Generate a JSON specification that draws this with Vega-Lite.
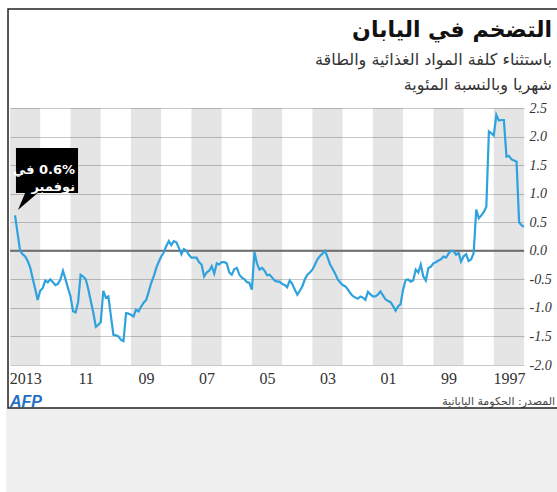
{
  "$schema": "https://vega.github.io/schema/vega-lite/v6.json",
  "width": 514,
  "height": 257,
  "autosize": {"type": "none"},
  "padding": {"left": 10, "top": 108, "right": 33, "bottom": 127},
  "background": "white",
  "config": {"view": {"stroke": null}},
  "title": {
    "text": "التضخم في اليابان",
    "subtitle": ["باستثناء كلفة المواد الغذائية والطاقة", "شهريا وبالنسبة المئوية"],
    "anchor": "end",
    "frame": "group",
    "orient": "top",
    "dx": 28,
    "offset": -86,
    "font": "DejaVu Sans",
    "fontSize": 22,
    "fontWeight": "bold",
    "color": "#111111",
    "subtitleFont": "DejaVu Sans",
    "subtitleFontSize": 16,
    "subtitleColor": "#333333",
    "subtitlePadding": 10,
    "subtitleLineHeight": 25
  },
  "datasets": {
    "cpi": [
      {"d":"1997-01","v":0.42},{"d":"1997-02","v":0.45},{"d":"1997-03","v":0.5},{"d":"1997-04","v":1.56},{"d":"1997-05","v":1.58},{"d":"1997-06","v":1.6},{"d":"1997-07","v":1.66},{"d":"1997-08","v":1.65},{"d":"1997-09","v":2.29},{"d":"1997-10","v":2.29},{"d":"1997-11","v":2.28},{"d":"1997-12","v":2.38},
      {"d":"1998-01","v":2.02},{"d":"1998-02","v":2.06},{"d":"1998-03","v":2.09},{"d":"1998-04","v":0.77},{"d":"1998-05","v":0.68},{"d":"1998-06","v":0.62},{"d":"1998-07","v":0.57},{"d":"1998-08","v":0.72},{"d":"1998-09","v":-0.04},{"d":"1998-10","v":-0.15},{"d":"1998-11","v":-0.18},{"d":"1998-12","v":-0.06},
      {"d":"1999-01","v":-0.1},{"d":"1999-02","v":-0.19},{"d":"1999-03","v":-0.04},{"d":"1999-04","v":-0.07},{"d":"1999-05","v":-0.01},{"d":"1999-06","v":0.0},{"d":"1999-07","v":-0.05},{"d":"1999-08","v":-0.12},{"d":"1999-09","v":-0.1},{"d":"1999-10","v":-0.15},{"d":"1999-11","v":-0.17},{"d":"1999-12","v":-0.2},
      {"d":"2000-01","v":-0.22},{"d":"2000-02","v":-0.28},{"d":"2000-03","v":-0.3},{"d":"2000-04","v":-0.52},{"d":"2000-05","v":-0.45},{"d":"2000-06","v":-0.24},{"d":"2000-07","v":-0.38},{"d":"2000-08","v":-0.33},{"d":"2000-09","v":-0.52},{"d":"2000-10","v":-0.54},{"d":"2000-11","v":-0.5},{"d":"2000-12","v":-0.51},
      {"d":"2001-01","v":-0.68},{"d":"2001-02","v":-0.94},{"d":"2001-03","v":-0.97},{"d":"2001-04","v":-1.05},{"d":"2001-05","v":-0.97},{"d":"2001-06","v":-0.9},{"d":"2001-07","v":-0.88},{"d":"2001-08","v":-0.85},{"d":"2001-09","v":-0.78},{"d":"2001-10","v":-0.71},{"d":"2001-11","v":-0.77},{"d":"2001-12","v":-0.8},
      {"d":"2002-01","v":-0.8},{"d":"2002-02","v":-0.76},{"d":"2002-03","v":-0.72},{"d":"2002-04","v":-0.86},{"d":"2002-05","v":-0.82},{"d":"2002-06","v":-0.8},{"d":"2002-07","v":-0.84},{"d":"2002-08","v":-0.82},{"d":"2002-09","v":-0.79},{"d":"2002-10","v":-0.74},{"d":"2002-11","v":-0.67},{"d":"2002-12","v":-0.62},
      {"d":"2003-01","v":-0.6},{"d":"2003-02","v":-0.55},{"d":"2003-03","v":-0.5},{"d":"2003-04","v":-0.4},{"d":"2003-05","v":-0.32},{"d":"2003-06","v":-0.24},{"d":"2003-07","v":-0.12},{"d":"2003-08","v":0.0},{"d":"2003-09","v":-0.05},{"d":"2003-10","v":-0.09},{"d":"2003-11","v":-0.15},{"d":"2003-12","v":-0.24},
      {"d":"2004-01","v":-0.33},{"d":"2004-02","v":-0.38},{"d":"2004-03","v":-0.42},{"d":"2004-04","v":-0.5},{"d":"2004-05","v":-0.62},{"d":"2004-06","v":-0.7},{"d":"2004-07","v":-0.77},{"d":"2004-08","v":-0.68},{"d":"2004-09","v":-0.58},{"d":"2004-10","v":-0.52},{"d":"2004-11","v":-0.64},{"d":"2004-12","v":-0.6},
      {"d":"2005-01","v":-0.58},{"d":"2005-02","v":-0.54},{"d":"2005-03","v":-0.54},{"d":"2005-04","v":-0.52},{"d":"2005-05","v":-0.47},{"d":"2005-06","v":-0.42},{"d":"2005-07","v":-0.43},{"d":"2005-08","v":-0.35},{"d":"2005-09","v":-0.3},{"d":"2005-10","v":-0.33},{"d":"2005-11","v":-0.22},{"d":"2005-12","v":-0.02},
      {"d":"2006-01","v":-0.68},{"d":"2006-02","v":-0.56},{"d":"2006-03","v":-0.55},{"d":"2006-04","v":-0.5},{"d":"2006-05","v":-0.47},{"d":"2006-06","v":-0.42},{"d":"2006-07","v":-0.3},{"d":"2006-08","v":-0.32},{"d":"2006-09","v":-0.42},{"d":"2006-10","v":-0.38},{"d":"2006-11","v":-0.22},{"d":"2006-12","v":-0.2},
      {"d":"2007-01","v":-0.2},{"d":"2007-02","v":-0.24},{"d":"2007-03","v":-0.22},{"d":"2007-04","v":-0.4},{"d":"2007-05","v":-0.27},{"d":"2007-06","v":-0.35},{"d":"2007-07","v":-0.38},{"d":"2007-08","v":-0.45},{"d":"2007-09","v":-0.24},{"d":"2007-10","v":-0.2},{"d":"2007-11","v":-0.12},{"d":"2007-12","v":-0.12},
      {"d":"2008-01","v":-0.12},{"d":"2008-02","v":-0.07},{"d":"2008-03","v":0.0},{"d":"2008-04","v":0.03},{"d":"2008-05","v":-0.06},{"d":"2008-06","v":0.05},{"d":"2008-07","v":0.15},{"d":"2008-08","v":0.17},{"d":"2008-09","v":0.1},{"d":"2008-10","v":0.17},{"d":"2008-11","v":0.08},{"d":"2008-12","v":-0.03},
      {"d":"2009-01","v":-0.1},{"d":"2009-02","v":-0.2},{"d":"2009-03","v":-0.3},{"d":"2009-04","v":-0.45},{"d":"2009-05","v":-0.56},{"d":"2009-06","v":-0.72},{"d":"2009-07","v":-0.86},{"d":"2009-08","v":-0.91},{"d":"2009-09","v":-0.98},{"d":"2009-10","v":-1.06},{"d":"2009-11","v":-1.03},{"d":"2009-12","v":-1.15},
      {"d":"2010-01","v":-1.12},{"d":"2010-02","v":-1.1},{"d":"2010-03","v":-1.09},{"d":"2010-04","v":-1.58},{"d":"2010-05","v":-1.56},{"d":"2010-06","v":-1.5},{"d":"2010-07","v":-1.48},{"d":"2010-08","v":-1.47},{"d":"2010-09","v":-1.13},{"d":"2010-10","v":-0.8},{"d":"2010-11","v":-0.82},{"d":"2010-12","v":-0.7},
      {"d":"2011-01","v":-1.25},{"d":"2011-02","v":-1.3},{"d":"2011-03","v":-1.33},{"d":"2011-04","v":-1.08},{"d":"2011-05","v":-0.88},{"d":"2011-06","v":-0.67},{"d":"2011-07","v":-0.5},{"d":"2011-08","v":-0.45},{"d":"2011-09","v":-0.42},{"d":"2011-10","v":-0.9},{"d":"2011-11","v":-1.08},{"d":"2011-12","v":-1.06},
      {"d":"2012-01","v":-0.8},{"d":"2012-02","v":-0.65},{"d":"2012-03","v":-0.5},{"d":"2012-04","v":-0.35},{"d":"2012-05","v":-0.5},{"d":"2012-06","v":-0.58},{"d":"2012-07","v":-0.6},{"d":"2012-08","v":-0.55},{"d":"2012-09","v":-0.5},{"d":"2012-10","v":-0.55},{"d":"2012-11","v":-0.52},{"d":"2012-12","v":-0.65},
      {"d":"2013-01","v":-0.7},{"d":"2013-02","v":-0.86},{"d":"2013-03","v":-0.68},{"d":"2013-04","v":-0.49},{"d":"2013-05","v":-0.3},{"d":"2013-06","v":-0.18},{"d":"2013-07","v":-0.1},{"d":"2013-08","v":-0.06},{"d":"2013-09","v":0.0},{"d":"2013-10","v":0.3},{"d":"2013-11","v":0.62}
    ],
    "bands": [
      {"s":"1997-01-01","e":"1998-01-01"},{"s":"1999-01-01","e":"2000-01-01"},{"s":"2001-01-01","e":"2002-01-01"},
      {"s":"2003-01-01","e":"2004-01-01"},{"s":"2005-01-01","e":"2006-01-01"},{"s":"2007-01-01","e":"2008-01-01"},
      {"s":"2009-01-01","e":"2010-01-01"},{"s":"2011-01-01","e":"2012-01-01"},{"s":"2013-01-01","e":"2014-01-01"}
    ],
    "one": [{"k": 1}]
  },
  "layer": [
    {
      "data": {"name": "one"},
      "mark": {"type": "rect", "color": "#efefef"},
      "encoding": {
        "x": {"datum": {"year": 2014, "month": 2, "date": 15, "utc": true}, "type": "temporal"},
        "x2": {"datum": {"year": 1995, "month": 1, "date": 1, "utc": true}},
        "y": {
          "datum": -2.753, "type": "quantitative",
          "scale": {"domain": [-2, 2.5], "nice": false, "zero": false},
          "axis": {
            "orient": "right",
            "values": [-2, -1.5, -1, -0.5, 0, 0.5, 1, 1.5, 2, 2.5],
            "tickCount": 10,
            "labelExpr": "replace(format(datum.value, '.1f'), '\u2212', '-')",
            "title": null, "domain": false, "ticks": false,
            "grid": true, "gridColor": "#c8c8c8", "gridWidth": 1.2,
            "labelFont": "Liberation Serif", "labelFontStyle": "italic", "labelFontSize": 14,
            "labelColor": "#333333", "labelPadding": 5, "labelFlush": false, "labelOverlap": false
          }
        },
        "y2": {"datum": -4.6}
      }
    },
    {
      "data": {"name": "bands"},
      "mark": {"type": "rect", "color": "#000000", "opacity": 0.1},
      "encoding": {
        "x": {
          "field": "s", "type": "temporal",
          "scale": {"type": "utc", "domain": [{"year": 1997, "month": 1, "date": 1, "utc": true}, {"year": 2014, "month": 1, "date": 1, "utc": true}], "reverse": true},
          "axis": {
            "orient": "bottom",
            "values": [
              {"year": 2013, "month": 7, "date": 2, "utc": true}, {"year": 2011, "month": 7, "date": 2, "utc": true},
              {"year": 2009, "month": 7, "date": 2, "utc": true}, {"year": 2007, "month": 7, "date": 2, "utc": true},
              {"year": 2005, "month": 7, "date": 2, "utc": true}, {"year": 2003, "month": 7, "date": 2, "utc": true},
              {"year": 2001, "month": 7, "date": 2, "utc": true}, {"year": 1999, "month": 7, "date": 2, "utc": true},
              {"year": 1997, "month": 7, "date": 2, "utc": true}
            ],
            "labelExpr": "utcyear(datum.value) == 2013 || utcyear(datum.value) == 1997 ? utcFormat(datum.value, '%Y') : utcFormat(datum.value, '%y')",
            "title": null, "grid": false, "domain": false, "ticks": false,
            "labelFont": "Liberation Serif", "labelFontSize": 16, "labelColor": "#333333",
            "labelPadding": 5, "labelFlush": false, "labelOverlap": false
          }
        },
        "x2": {"field": "e"}
      }
    },
    {
      "data": {"name": "one"},
      "mark": {"type": "rule", "color": "#6e6e6e", "strokeWidth": 2},
      "encoding": {
        "y": {"datum": 0, "type": "quantitative"}
      }
    },
    {
      "data": {"name": "cpi"},
      "mark": {"type": "line", "color": "#2fa2dd", "strokeWidth": 2.2},
      "encoding": {
        "x": {"field": "d", "type": "temporal",
          "scale": {"type": "utc", "domain": [{"year": 1997, "month": 1, "date": 1, "utc": true}, {"year": 2014, "month": 1, "date": 1, "utc": true}], "reverse": true}},
        "y": {
          "field": "v", "type": "quantitative",
          "scale": {"domain": [-2, 2.5], "nice": false, "zero": false},
          "axis": {
            "orient": "right",
            "values": [-2, -1.5, -1, -0.5, 0, 0.5, 1, 1.5, 2, 2.5],
            "tickCount": 10,
            "labelExpr": "replace(format(datum.value, '.1f'), '\u2212', '-')",
            "title": null, "domain": false, "ticks": false,
            "grid": true, "gridColor": "#c8c8c8", "gridWidth": 1.2,
            "labelFont": "Liberation Serif", "labelFontStyle": "italic", "labelFontSize": 14,
            "labelColor": "#333333", "labelPadding": 5, "labelFlush": false, "labelOverlap": false
          }
        }
      }
    },
    {
      "data": {"name": "one"},
      "mark": {"type": "rect", "color": "#000000"},
      "encoding": {
        "x": {"datum": {"year": 2013, "month": 10, "date": 21, "utc": true}, "type": "temporal"},
        "x2": {"datum": {"year": 2011, "month": 10, "date": 2, "utc": true}},
        "y": {"datum": 1.8, "type": "quantitative"},
        "y2": {"datum": 1.01}
      }
    },
    {
      "data": {"name": "one"},
      "mark": {"type": "point", "shape": "M-0.27,-0.95L1,-0.95L-1,0.77Z", "filled": true, "color": "#000000", "opacity": 1, "size": 484},
      "encoding": {
        "x": {"datum": {"year": 2013, "month": 5, "date": 17, "utc": true}, "type": "temporal"},
        "y": {"datum": 0.863, "type": "quantitative"}
      }
    },
    {
      "data": {"name": "one"},
      "mark": {"type": "text", "text": ["في \u200e0.6%", "نوفمبر"], "align": "right", "baseline": "middle", "color": "#ffffff", "font": "DejaVu Sans", "fontSize": 13, "fontWeight": "bold", "lineHeight": 17},
      "encoding": {
        "x": {"datum": {"year": 2011, "month": 11, "date": 7, "utc": true}, "type": "temporal"},
        "y": {"datum": 1.406, "type": "quantitative"}
      }
    },
    {
      "data": {"name": "one"},
      "mark": {"type": "text", "text": "AFP", "align": "left", "baseline": "alphabetic", "color": "#1f6fc5", "font": "Liberation Sans", "fontSize": 16, "fontWeight": "bold", "fontStyle": "italic"},
      "encoding": {
        "x": {"datum": {"year": 2014, "month": 1, "date": 1, "utc": true}, "type": "temporal"},
        "y": {"datum": -2.74, "type": "quantitative"}
      }
    },
    {
      "data": {"name": "one"},
      "mark": {"type": "text", "text": "المصدر: الحكومة اليابانية", "align": "right", "baseline": "alphabetic", "color": "#444444", "font": "DejaVu Sans", "fontSize": 11},
      "encoding": {
        "x": {"datum": {"year": 1995, "month": 12, "date": 22, "utc": true}, "type": "temporal"},
        "y": {"datum": -2.7, "type": "quantitative"}
      }
    },
    {
      "data": {"name": "one"},
      "mark": {"type": "rect", "fillOpacity": 0, "stroke": "#222222", "strokeWidth": 1.5},
      "encoding": {
        "x": {"datum": {"year": 2014, "month": 1, "date": 25, "utc": true}, "type": "temporal"},
        "x2": {"datum": {"year": 1995, "month": 6, "date": 1, "utc": true}},
        "y": {"datum": 4.233, "type": "quantitative"},
        "y2": {"datum": -2.753}
      }
    }
  ]
}
